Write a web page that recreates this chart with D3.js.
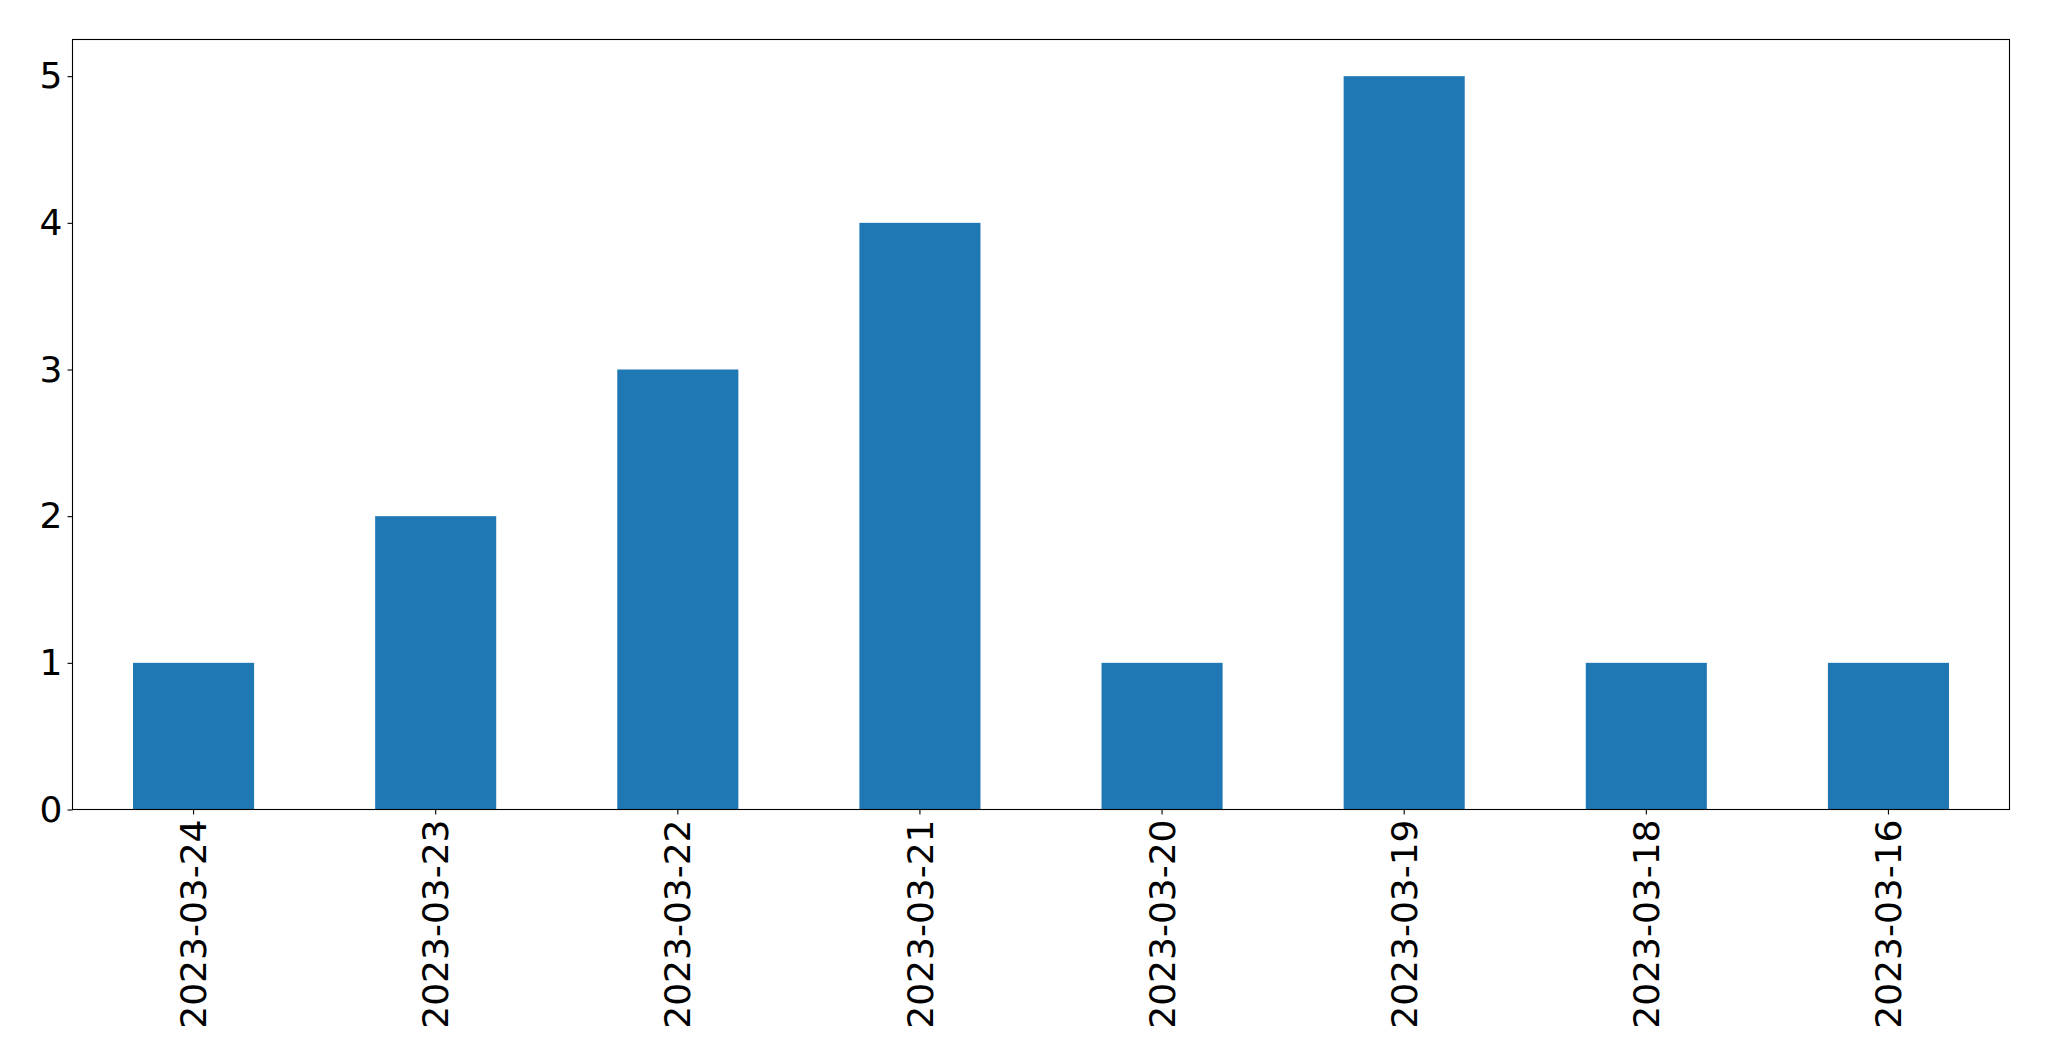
<!DOCTYPE html>
<html>
<head>
<meta charset="utf-8">
<script src="https://cdn.jsdelivr.net/npm/d3@7"></script>
<style>
  body { margin: 0; background: #fff; }
  text { font-family: "DejaVu Sans", sans-serif; fill: #000; }
</style>
</head>
<body>
<script>
var dates = ["2023-03-24", "2023-03-23", "2023-03-22", "2023-03-21",
             "2023-03-20", "2023-03-19", "2023-03-18", "2023-03-16"];
var counts = [1, 2, 3, 4, 1, 5, 1, 1];
var yTicks = [0, 1, 2, 3, 4, 5];

var width = 2049, height = 1061;
var margin = {top: 39.5, right: 39.5, bottom: 251.5, left: 72.5};
var w = width - margin.left - margin.right,
    h = height - margin.top - margin.bottom;

var svg = d3.select("body")
  .append("svg")
    .attr("width", width)
    .attr("height", height);

var g = svg.append("g")
    .attr("transform", "translate(" + margin.left + "," + margin.top + ")");

var x = d3.scaleBand()
    .domain(dates)
    .range([0, w])
    .paddingInner(0.5)
    .paddingOuter(0.25);

var y = d3.scaleLinear()
    .domain([0, 5.25])
    .range([h, 0]);

g.selectAll("rect.bar")
    .data(counts)
  .enter().append("rect")
    .attr("class", "bar")
    .attr("x", function(d, i) { return x(dates[i]); })
    .attr("y", function(d) { return y(d); })
    .attr("width", x.bandwidth())
    .attr("height", function(d) { return h - y(d); })
    .style("fill", "#1f77b4");

// frame
g.append("rect")
    .attr("width", w)
    .attr("height", h)
    .attr("fill", "none")
    .attr("stroke", "#000")
    .attr("stroke-width", 1.1);

var xAxis = g.append("g")
    .attr("transform", "translate(0," + h + ")")
    .call(d3.axisBottom(x).tickSize(5).tickPadding(5));
xAxis.select(".domain").remove();
xAxis.selectAll("line").attr("stroke", "#000").attr("stroke-width", 1.1);
xAxis.selectAll("text")
    .style("font-size", "36px")
    .attr("transform", "rotate(-90)")
    .attr("text-anchor", "end")
    .attr("dy", "0.35em")
    .attr("x", -10)
    .attr("y", 0);

var yAxis = g.append("g")
    .call(d3.axisLeft(y).tickValues(yTicks).tickFormat(d3.format("d")).tickSize(5).tickPadding(5));
yAxis.select(".domain").remove();
yAxis.selectAll("line").attr("stroke", "#000").attr("stroke-width", 1.1);
yAxis.selectAll("text").style("font-size", "36px");
</script>
</body>
</html>
